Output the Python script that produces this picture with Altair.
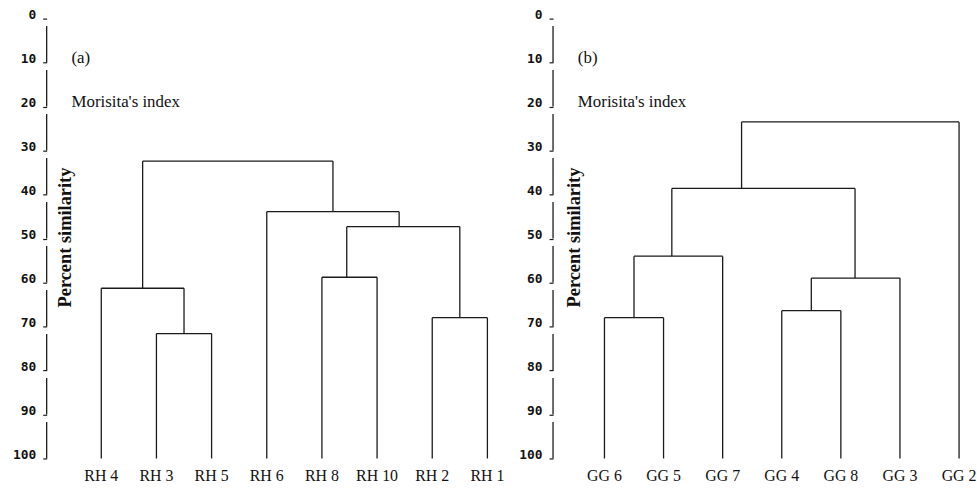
import altair as alt
import pandas as pd

# ---- (a) RH sites ----
rh_leaves = ["RH 4", "RH 3", "RH 5", "RH 6", "RH 8", "RH 10", "RH 2", "RH 1"]
# one entry per merge: left/right leg position (leaf units), join level,
# and the level each leg drops down to
rh_x1 = [1, 0, 6, 4, 4.45, 3, 0.75]
rh_x2 = [2, 1.5, 7, 5, 6.5, 5.4, 4.2]
rh_level = [71.6, 61.3, 68.0, 58.8, 47.3, 43.9, 32.4]
rh_end1 = [100, 100, 100, 100, 58.8, 100, 61.3]
rh_end2 = [100, 71.6, 100, 100, 68.0, 47.3, 43.9]

# ---- (b) GG sites ----
gg_leaves = ["GG 6", "GG 5", "GG 7", "GG 4", "GG 8", "GG 3", "GG 2"]
gg_x1 = [0, 0.5, 3, 3.5, 1.14, 2.32]
gg_x2 = [1, 2, 4, 5, 4.24, 6]
gg_level = [68.0, 54.0, 66.4, 59.0, 38.6, 23.5]
gg_end1 = [100, 68.0, 100, 66.4, 54.0, 38.6]
gg_end2 = [100, 100, 100, 100, 59.0, 100]

tick_values = [0, 10, 20, 30, 40, 50, 60, 70, 80, 90, 100]

LINE = "#1a1a1a"
SERIF = "Liberation Serif"


def segments(x1, x2, level, end1, end2):
    rows = []
    for a, b, lv, e1, e2 in zip(x1, x2, level, end1, end2):
        rows.append({"x": a, "x2": b, "y": lv, "y2": lv})
        rows.append({"x": a, "x2": a, "y": lv, "y2": e1})
        rows.append({"x": b, "x2": b, "y": lv, "y2": e2})
    return pd.DataFrame(rows)


def panel(leaves, x1, x2, level, end1, end2, tag, domain, width, title_x):
    xs = alt.Scale(domain=domain, nice=False, zero=False)
    ys = alt.Scale(domain=[0, 100], reverse=True, nice=False, zero=False)

    y_axis = alt.Axis(
        values=tick_values, domain=False, grid=False,
        tickSize=4, tickColor=LINE, tickWidth=1.2,
        labelFont="DejaVu Sans Mono", labelFontWeight="bold", labelFontSize=13,
        labelColor="#111", labelBaseline="alphabetic", labelPadding=7,
        title="Percent  similarity", titleFont=SERIF, titleFontWeight="bold",
        titleFontSize=18.5, titleColor="#111", titleAngle=270,
        titleX=title_x, titleY=220, titleAlign="center", titleBaseline="middle",
    )

    tree = alt.Chart(segments(x1, x2, level, end1, end2)).mark_rule(
        color=LINE, strokeWidth=1.3
    ).encode(
        x=alt.X("x:Q", scale=xs, axis=None),
        x2="x2:Q",
        y=alt.Y("y:Q", scale=ys, axis=y_axis),
        y2="y2:Q",
    )

    # broken axis line: one short stroke ending at each tick
    axis_df = pd.DataFrame({"top": [t - 8.3 for t in tick_values[1:]],
                            "bottom": tick_values[1:]})
    axis_line = alt.Chart(axis_df).mark_rule(color=LINE, strokeWidth=1.3).encode(
        x=alt.value(0),
        y=alt.Y("top:Q", scale=ys),
        y2="bottom:Q",
    )

    leaf_df = pd.DataFrame({"pos": list(range(len(leaves))), "name": leaves,
                            "lv": [100] * len(leaves)})
    leaf_text = alt.Chart(leaf_df).mark_text(
        font=SERIF, fontSize=16, color="#111", dy=18, baseline="middle"
    ).encode(
        x=alt.X("pos:Q", scale=xs),
        y=alt.Y("lv:Q", scale=ys),
        text="name:N",
    )

    notes_df = pd.DataFrame({"label": [tag, "Morisita's index"],
                             "py": [40, 84]})
    notes = alt.Chart(notes_df).mark_text(
        font=SERIF, fontSize=17, color="#111", align="left", baseline="middle"
    ).encode(
        x=alt.value(25),
        y=alt.Y("py:Q", scale=None),
        text="label:N",
    )

    return alt.layer(axis_line, tree, leaf_text, notes).properties(
        width=width, height=443
    )


left = panel(rh_leaves, rh_x1, rh_x2, rh_level, rh_end1, rh_end2,
             "(a)", [-0.99, 7.2], 455, 18)
right = panel(gg_leaves, gg_x1, gg_x2, gg_level, gg_end1, gg_end2,
              "(b)", [-0.87, 6.27], 425, 21)

chart = alt.hconcat(left, right, spacing=13).properties(
    padding={"left": 12, "top": 7, "right": 0, "bottom": 0},
    background="white",
).configure_view(stroke=None)

chart.save("out.html", embed_options={"renderer": "svg", "actions": False})
